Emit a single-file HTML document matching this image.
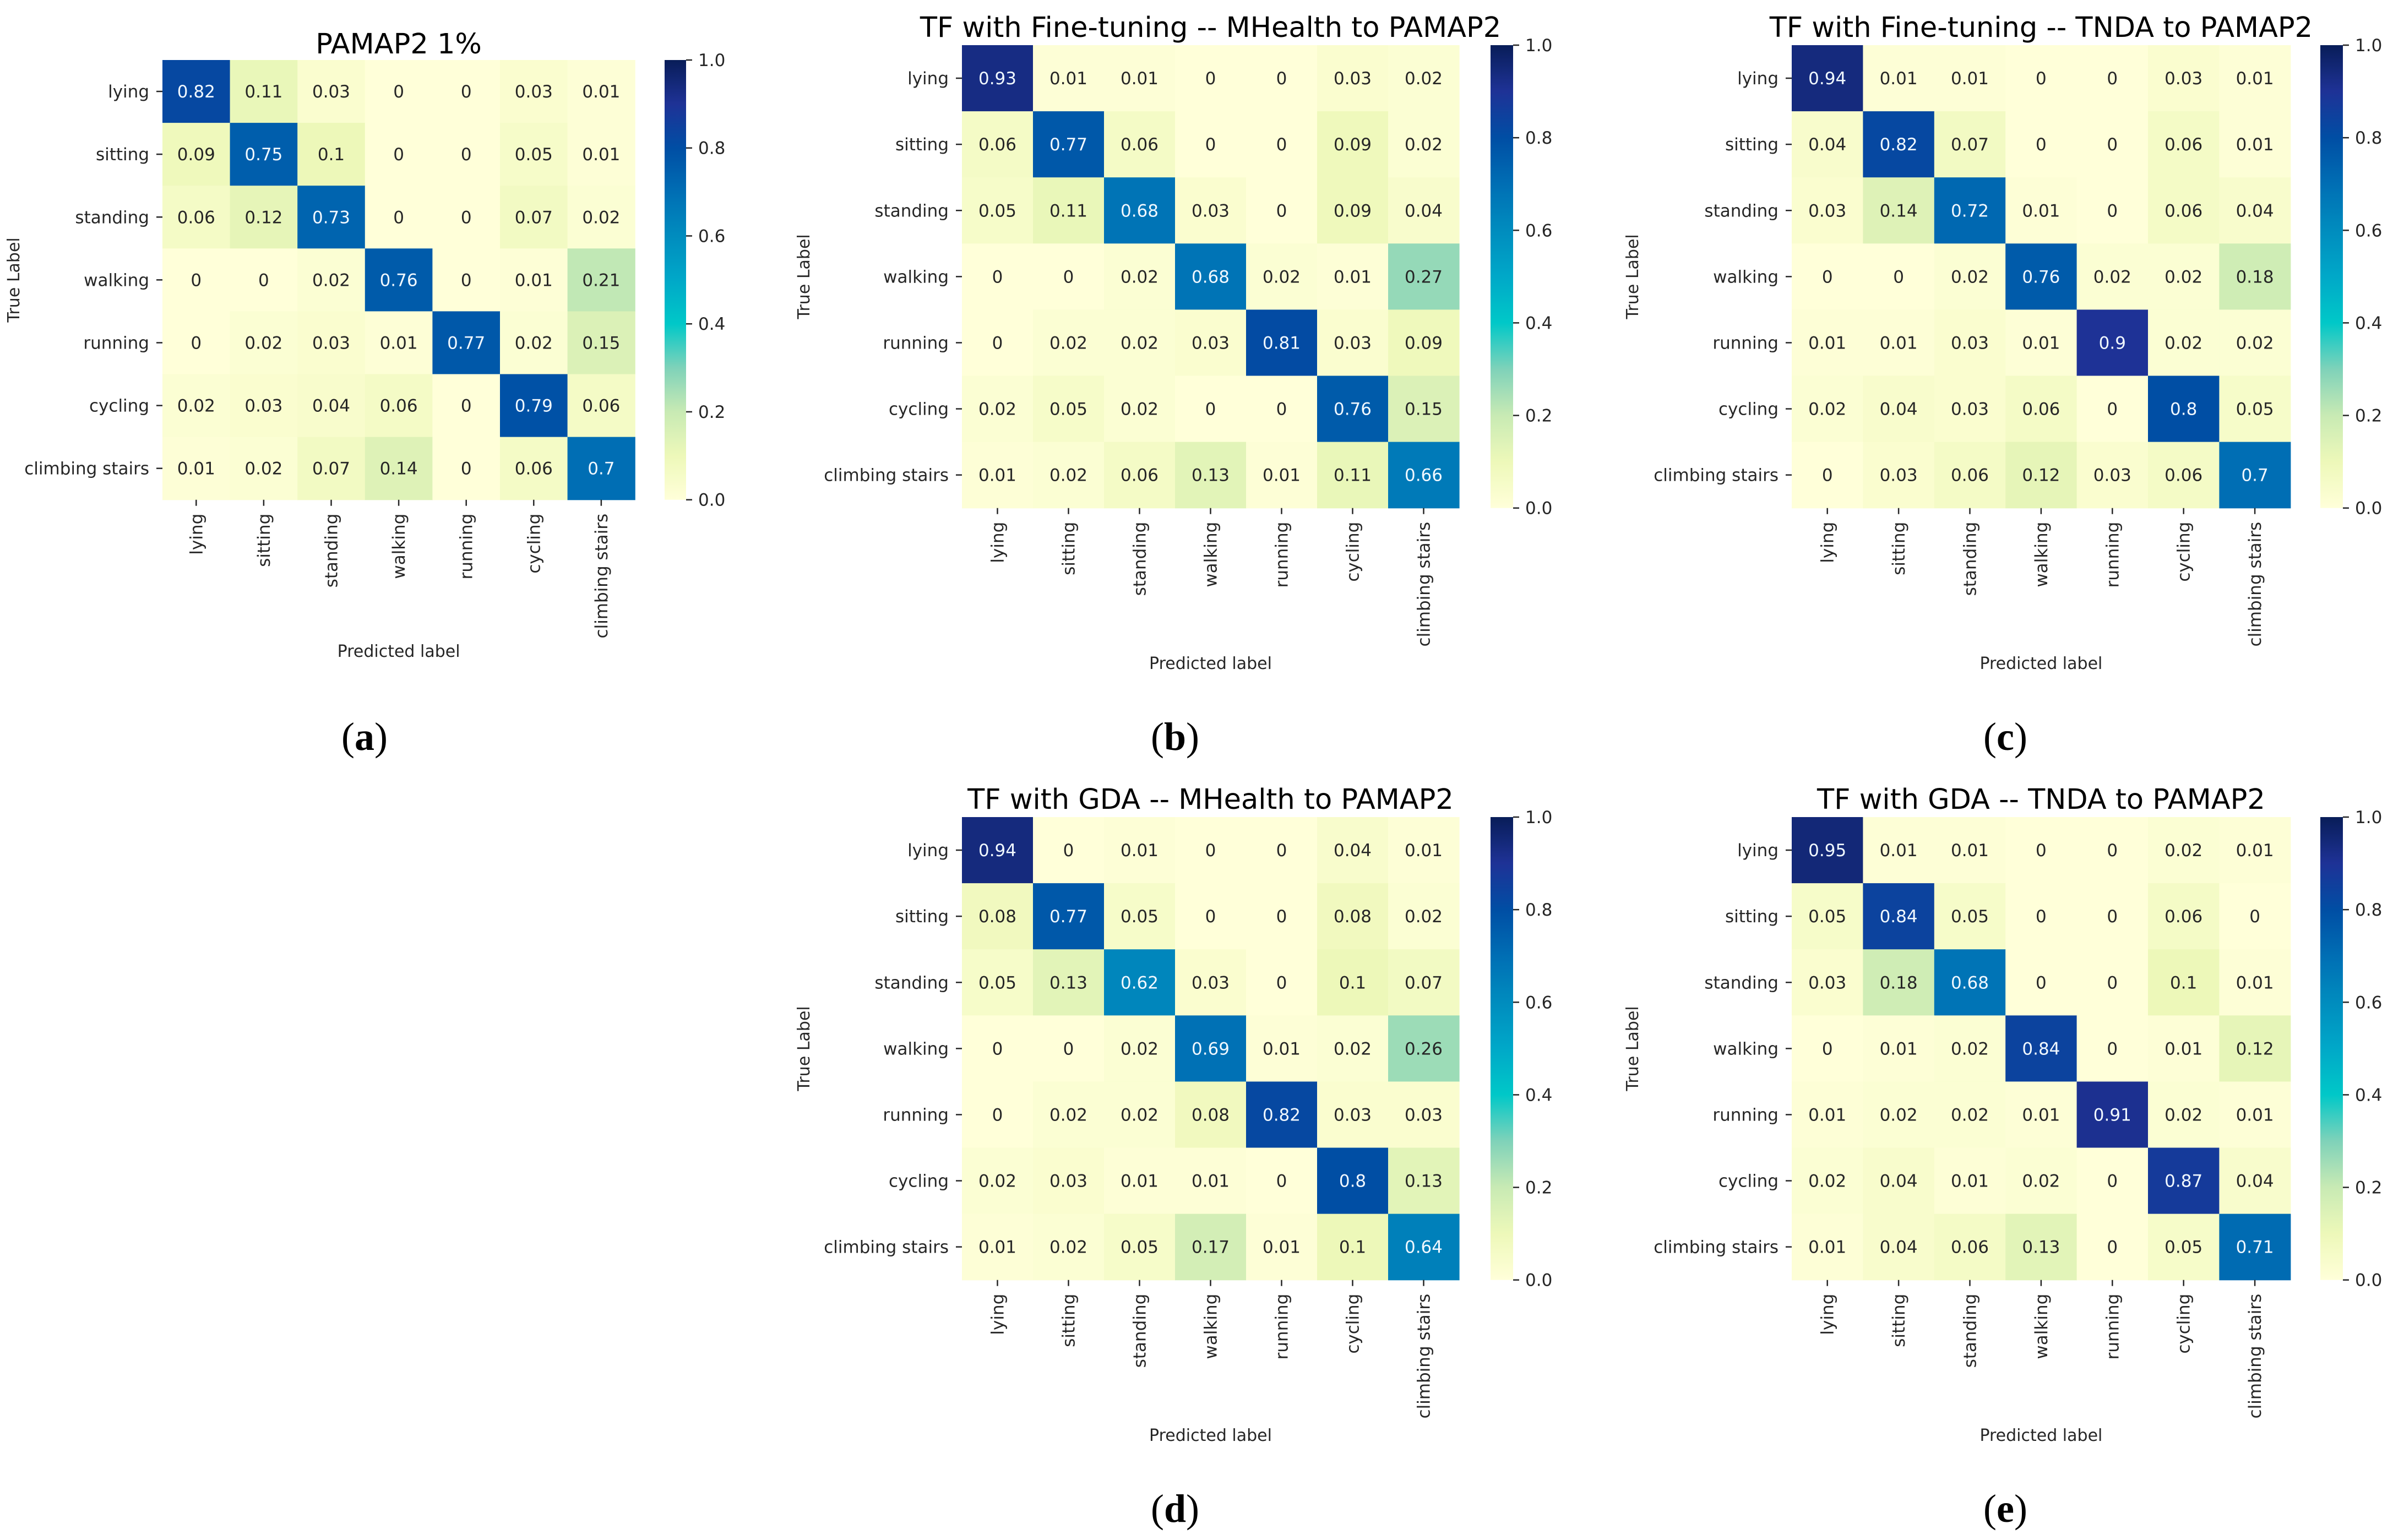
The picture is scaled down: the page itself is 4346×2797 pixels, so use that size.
<!DOCTYPE html>
<html><head><meta charset="utf-8">
<style>
html,body{margin:0;padding:0;background:#fff;}
svg{display:block;}
text{font-family:"DejaVu Sans","Liberation Sans",sans-serif;}
text.serif{font-family:"Liberation Serif","DejaVu Serif",serif;}
</style></head>
<body>
<svg id="fig" width="4346" height="2797" viewBox="0 0 4346 2797" xmlns="http://www.w3.org/2000/svg"></svg>
<script>
// ---- data ----
const categories = ["lying","sitting","standing","walking","running","cycling","climbing stairs"];
const titles = ["PAMAP2 1%","TF with Fine-tuning -- MHealth to PAMAP2","TF with Fine-tuning -- TNDA to PAMAP2","TF with GDA -- MHealth to PAMAP2","TF with GDA -- TNDA to PAMAP2"];
const panelLetters = ["(a)","(b)","(c)","(d)","(e)"];
const colorbarTicks = [0.0,0.2,0.4,0.6,0.8,1.0];
const matA = [
 [0.82,0.11,0.03,0,0,0.03,0.01],
 [0.09,0.75,0.1,0,0,0.05,0.01],
 [0.06,0.12,0.73,0,0,0.07,0.02],
 [0,0,0.02,0.76,0,0.01,0.21],
 [0,0.02,0.03,0.01,0.77,0.02,0.15],
 [0.02,0.03,0.04,0.06,0,0.79,0.06],
 [0.01,0.02,0.07,0.14,0,0.06,0.7]];
const matB = [
 [0.93,0.01,0.01,0,0,0.03,0.02],
 [0.06,0.77,0.06,0,0,0.09,0.02],
 [0.05,0.11,0.68,0.03,0,0.09,0.04],
 [0,0,0.02,0.68,0.02,0.01,0.27],
 [0,0.02,0.02,0.03,0.81,0.03,0.09],
 [0.02,0.05,0.02,0,0,0.76,0.15],
 [0.01,0.02,0.06,0.13,0.01,0.11,0.66]];
const matC = [
 [0.94,0.01,0.01,0,0,0.03,0.01],
 [0.04,0.82,0.07,0,0,0.06,0.01],
 [0.03,0.14,0.72,0.01,0,0.06,0.04],
 [0,0,0.02,0.76,0.02,0.02,0.18],
 [0.01,0.01,0.03,0.01,0.9,0.02,0.02],
 [0.02,0.04,0.03,0.06,0,0.8,0.05],
 [0,0.03,0.06,0.12,0.03,0.06,0.7]];
const matD = [
 [0.94,0,0.01,0,0,0.04,0.01],
 [0.08,0.77,0.05,0,0,0.08,0.02],
 [0.05,0.13,0.62,0.03,0,0.1,0.07],
 [0,0,0.02,0.69,0.01,0.02,0.26],
 [0,0.02,0.02,0.08,0.82,0.03,0.03],
 [0.02,0.03,0.01,0.01,0,0.8,0.13],
 [0.01,0.02,0.05,0.17,0.01,0.1,0.64]];
const matE = [
 [0.95,0.01,0.01,0,0,0.02,0.01],
 [0.05,0.84,0.05,0,0,0.06,0],
 [0.03,0.18,0.68,0,0,0.1,0.01],
 [0,0.01,0.02,0.84,0,0.01,0.12],
 [0.01,0.02,0.02,0.01,0.91,0.02,0.01],
 [0.02,0.04,0.01,0.02,0,0.87,0.04],
 [0.01,0.04,0.06,0.13,0,0.05,0.71]];
const matrices = [matA,matB,matC,matD,matE];

// ---- layout (not data) ----
const layout = [
 {x:295, y:109, cw:122.6, ch:114.1, cbx:1207, cbw:39, ylx:25, xly:1183, lx:662, ly:1338, tb:97},
 {x:1747,y:82,  cw:129,   ch:120.1, cbx:2707, cbw:41, ylx:1460,xly:1205, lx:2134,ly:1338, tb:67},
 {x:3254,y:82,  cw:129.4, ch:120.1, cbx:4214, cbw:41, ylx:2965,xly:1205, lx:3642,ly:1338, tb:67},
 {x:1747,y:1484,cw:129,   ch:120.1, cbx:2707, cbw:41, ylx:1460,xly:2607, lx:2134,ly:2740, tb:1469},
 {x:3254,y:1484,cw:129.4, ch:120.1, cbx:4214, cbw:41, ylx:2965,xly:2607, lx:3642,ly:2740, tb:1469}];
const cmapStops = [[255,255,217],[237,248,185],[200,234,180],[127,210,185],[0,200,200],[0,168,200],[0,140,190],[0,110,180],[0,78,164],[30,50,150],[8,29,88]];
function cmap(v){
  v=Math.max(0,Math.min(1,v));
  const p=v*(cmapStops.length-1), i=Math.min(Math.floor(p),cmapStops.length-2), f=p-i;
  const a=cmapStops[i], b=cmapStops[i+1];
  return 'rgb('+a.map((c,k)=>Math.round(c+(b[k]-c)*f)).join(',')+')';
}
const NS="http://www.w3.org/2000/svg";
const svg=document.getElementById('fig');
function el(tag,attrs,parent,txt){
  const e=document.createElementNS(NS,tag);
  for(const k in attrs) e.setAttribute(k,attrs[k]);
  if(txt!==undefined) e.textContent=txt;
  (parent||svg).appendChild(e); return e;
}
const defs=el('defs',{});
const grad=el('linearGradient',{id:'cbgrad',x1:0,y1:1,x2:0,y2:0},defs);
for(let i=0;i<=40;i++){el('stop',{offset:(i/40),'stop-color':cmap(i/40)},grad);}

matrices.forEach((m,pi)=>{
  const L=layout[pi];
  const n=categories.length;
  const W=L.cw*n, H=L.ch*n;
  const xScale=j=>L.x+j*L.cw;
  const yScale=i=>L.y+i*L.ch;
  const vScale=v=>L.y+H-v*H;
  const g=el('g',{});
  
  
  const t=el('text',{x:L.x+W/2,y:L.tb,'text-anchor':'middle','font-size':51,fill:'#000'},g,titles[pi]);
  
  
  m.forEach((row,i)=>row.forEach((v,j)=>{
    const r=el('rect',{x:xScale(j),y:yScale(i),width:L.cw+0.6,height:L.ch+0.6,fill:cmap(v)},g);
    
    
    const tx=el('text',{x:xScale(j)+L.cw/2,y:yScale(i)+L.ch/2+11,'text-anchor':'middle','font-size':31,fill:v>0.5?'#f0f8ff':'#262626'},g,String(v));
    
    
  }));
  categories.forEach((c,i)=>{
    const yc=yScale(i)+L.ch/2;
    el('line',{x1:L.x-11,x2:L.x,y1:yc,y2:yc,stroke:'#262626','stroke-width':2.5},g);
    const yl=el('text',{x:L.x-24,y:yc+11,'text-anchor':'end','font-size':31,fill:'#262626'},g,c);
    
    
    const xc=xScale(i)+L.cw/2;
    el('line',{x1:xc,x2:xc,y1:L.y+H,y2:L.y+H+11,stroke:'#262626','stroke-width':2.5},g);
    const xl=el('text',{x:0,y:0,'text-anchor':'end','font-size':31,fill:'#262626',transform:'translate('+(xc+11)+','+(L.y+H+25)+') rotate(-90)'},g,c);
    
    
  });
  const yt=el('text',{x:0,y:0,'text-anchor':'middle','font-size':30,fill:'#262626',transform:'translate('+(L.ylx+10)+','+(L.y+H/2)+') rotate(-90)'},g,'True Label');
  
  
  const xt=el('text',{x:L.x+W/2,y:L.xly+10,'text-anchor':'middle','font-size':30,fill:'#262626'},g,'Predicted label');
  
  
  const cb=el('rect',{x:L.cbx,y:L.y,width:L.cbw,height:H,fill:'url(#cbgrad)'},g);
  
  
  colorbarTicks.forEach(v=>{
    const yy=vScale(v);
    el('line',{x1:L.cbx+L.cbw,x2:L.cbx+L.cbw+11,y1:yy,y2:yy,stroke:'#262626','stroke-width':2.5},g);
    const ct=el('text',{x:L.cbx+L.cbw+22,y:yy+11,'font-size':31,fill:'#262626'},g,v.toFixed(1));
    
    
  });
  const pl=el('text',{x:L.lx,y:L.ly+24,'text-anchor':'middle','font-size':72,fill:'#000','class':'serif',style:'font-family:"Liberation Serif","DejaVu Serif",serif'},svg);
  
  
  el('tspan',{},pl,'(');
  el('tspan',{'font-weight':'bold'},pl,panelLetters[pi].slice(1,2));
  el('tspan',{},pl,')');
});
</script>
</body></html>
